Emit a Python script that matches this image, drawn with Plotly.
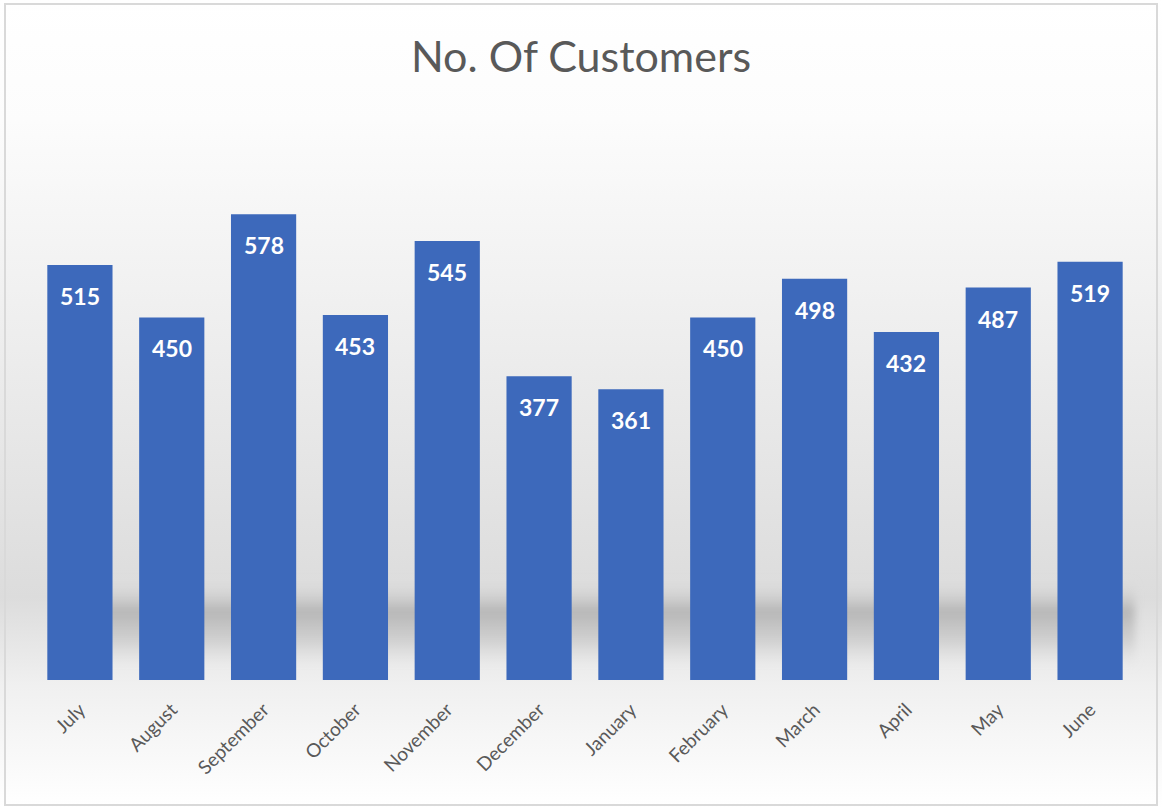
import base64
import plotly.graph_objects as go

months = ["July", "August", "September", "October", "November", "December",
          "January", "February", "March", "April", "May", "June"]
customers = [515, 450, 578, 453, 545, 377, 361, 450, 498, 432, 487, 519]

W, H = 1162, 807
L, R, T, B = 34, 26, 116, 127
pw, ph = W - L - R, H - T - B

svg = f'''<svg xmlns="http://www.w3.org/2000/svg" width="{W}" height="{H}" viewBox="0 0 {W} {H}">
<defs>
<linearGradient id="g" x1="0" y1="0" x2="0" y2="1">
<stop offset="0" stop-color="#ffffff"/>
<stop offset="0.15" stop-color="#fcfcfc"/>
<stop offset="0.45" stop-color="#ececec"/>
<stop offset="0.74" stop-color="#dcdcdc"/>
<stop offset="0.85" stop-color="#f0f0f0"/>
<stop offset="1" stop-color="#ffffff"/>
</linearGradient>
<linearGradient id="s" x1="0" y1="0" x2="0" y2="1">
<stop offset="0" stop-color="#dcdcdc" stop-opacity="0"/>
<stop offset="0.35" stop-color="#a8a8a8" stop-opacity="0.75"/>
<stop offset="0.7" stop-color="#bdbdbd" stop-opacity="0.5"/>
<stop offset="1" stop-color="#dcdcdc" stop-opacity="0"/>
</linearGradient>
<filter id="b"><feGaussianBlur stdDeviation="4"/></filter>
</defs>
<rect x="0" y="0" width="{W}" height="{H}" fill="url(#g)"/>
<rect x="90" y="580" width="1045" height="88" fill="url(#s)" filter="url(#b)"/>
<rect x="5" y="4" width="{W-10}" height="{H-6}" fill="none" stroke="#d9d9d9" stroke-width="2"/>
</svg>'''
uri = "data:image/svg+xml;base64," + base64.b64encode(svg.encode()).decode()

fig = go.Figure()
fig.add_trace(go.Bar(
    x=months, y=customers,
    marker=dict(color="#3d69bb", line=dict(width=0)),
    hoverinfo="x+y",
))

for m, v in zip(months, customers):
    fig.add_annotation(x=m, y=v, text=str(v), showarrow=False, yshift=-31,
                       font=dict(family="Lato", size=23, color="white", weight="bold"))

fig.add_layout_image(dict(
    source=uri, xref="paper", yref="paper",
    x=-L / pw, y=1 + T / ph, sizex=W / pw, sizey=H / ph,
    xanchor="left", yanchor="top", sizing="stretch", layer="below",
))

fig.update_layout(
    width=W, height=H,
    margin=dict(l=L, r=R, t=T, b=B),
    paper_bgcolor="white", plot_bgcolor="rgba(0,0,0,0)",
    title=dict(text="No. Of Customers", x=0.5, xanchor="center",
               y=1 - 57 / H, yanchor="middle",
               font=dict(family="Lato", size=43, color="#595959")),
    bargap=0.29,
    showlegend=False,
    xaxis=dict(tickangle=-45, showgrid=False, showline=False, ticks="",
               ticklabelstandoff=14,
               tickfont=dict(family="Lato", size=19, color="#595959")),
    yaxis=dict(range=[0, 700], visible=False, showgrid=False),
)

fig.write_html("out.html", config={"displayModeBar": False},
               post_script="document.body.style.margin='0';document.body.style.overflow='hidden';")
